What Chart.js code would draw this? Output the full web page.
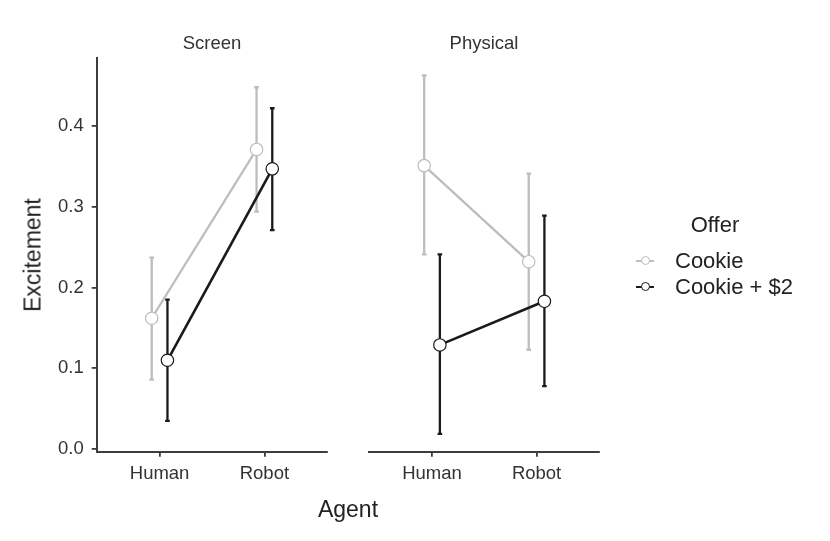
<!DOCTYPE html>
<html>
<head>
<meta charset="utf-8">
<script src="https://cdn.jsdelivr.net/npm/chart.js@4.4.1/dist/chart.umd.min.js"></script>
<style>
  html, body { margin:0; padding:0; background:#fff; }
  body { width:830px; height:541px; position:relative; overflow:hidden; font-family:"Liberation Sans", Arial, Helvetica, sans-serif; }
  canvas { position:absolute; left:0; top:0; }
  .txt { position:absolute; line-height:1; white-space:nowrap; }
  .c { transform:translate(-50%,-50%); }
  .lc { transform:translate(0,-50%); }
  .key-line { position:absolute; height:2px; }
  .key-dot { position:absolute; width:9px; height:9px; border-radius:50%; background:#fff; box-sizing:border-box; }
</style>
</head>
<body>
<canvas id="c1" width="830" height="541"></canvas>
<canvas id="c2" width="830" height="541"></canvas>

<div class="txt c" style="left:212px; top:43px; font-size:18.5px; color:#333;">Screen</div>
<div class="txt c" style="left:484px; top:43px; font-size:18.5px; color:#333;">Physical</div>
<div class="txt c" style="left:348px; top:509px; font-size:23px; color:#222;">Agent</div>
<div class="txt c" style="left:33px; top:255px; font-size:23px; color:#222; transform:translate(-50%,-50%) rotate(-90deg);">Excitement</div>

<div class="txt c" style="left:715px; top:225px; font-size:22px; color:#222;">Offer</div>
<div id="legend"></div>

<script>
// ---------- data ----------
const facets = ['Screen', 'Physical'];
const categories = ['Human', 'Robot'];
const series = ['Cookie', 'Cookie + $2'];
const yTicks = [0.0, 0.1, 0.2, 0.3, 0.4];

const screenCookie     = [0.162, 0.371];
const screenCookieLow  = [0.086, 0.294];
const screenCookieHigh = [0.237, 0.448];
const screenCash       = [0.110, 0.347];
const screenCashLow    = [0.035, 0.271];
const screenCashHigh   = [0.185, 0.422];

const physCookie       = [0.351, 0.232];
const physCookieLow    = [0.241, 0.123];
const physCookieHigh   = [0.4625, 0.341];
const physCash         = [0.129, 0.183];
const physCashLow      = [0.019, 0.078];
const physCashHigh     = [0.241, 0.289];

// ---------- style ----------
const GRAY = '#bdbdbd';
const BLACK = '#1a1a1a';
const AXIS = '#3d3d3d';
const TICK_TXT = '#333333';
const FONT = '"Liberation Sans", Arial, Helvetica, sans-serif';
const DODGE = 0.075;
const CAP = 0.022;
const PANEL_TOP = 57.6;
const PANEL_BOTTOM = 451.7;
const W = 830, H = 541;

// y-range like ggplot (5% expansion of data range)
const allLo = Math.min(...screenCookieLow, ...screenCashLow, ...physCookieLow, ...physCashLow);
const allHi = Math.max(...screenCookieHigh, ...screenCashHigh, ...physCookieHigh, ...physCashHigh);
const span = allHi - allLo;
const yMin = allLo - 0.05 * span;
const yMax = allHi + 0.05 * span;

const errorBars = {
  id: 'errorBars',
  beforeDatasetsDraw(chart) {
    const { ctx, scales: { x, y } } = chart;
    chart.data.datasets.forEach(ds => {
      ctx.save();
      ctx.strokeStyle = ds.borderColor;
      ctx.lineWidth = ds.errWidth;
      ctx.lineCap = 'butt';
      ds.data.forEach((p, i) => {
        const px = x.getPixelForValue(p.x);
        const yl = y.getPixelForValue(ds.lo[i]);
        const yh = y.getPixelForValue(ds.hi[i]);
        const cw = x.getPixelForValue(p.x + CAP) - px;
        ctx.beginPath();
        ctx.moveTo(px, yl); ctx.lineTo(px, yh);
        ctx.moveTo(px - cw, yl); ctx.lineTo(px + cw, yl);
        ctx.moveTo(px - cw, yh); ctx.lineTo(px + cw, yh);
        ctx.stroke();
      });
      ctx.restore();
    });
  }
};

function ds(label, vals, lo, hi, color, offset, lw, pbw) {
  return {
    label,
    data: vals.map((v, i) => ({ x: i + 1 + offset, y: v })),
    lo, hi,
    borderColor: color,
    borderWidth: lw,
    errWidth: 2.3,
    pointRadius: 6.2,
    pointHoverRadius: 6.2,
    pointBackgroundColor: '#ffffff',
    pointBorderColor: color,
    pointBorderWidth: pbw,
    fill: false,
    tension: 0
  };
}

function makeChart(id, datasets, showY, padLeft, panelRight) {
  return new Chart(document.getElementById(id), {
    type: 'line',
    data: { datasets },
    plugins: [errorBars],
    options: {
      responsive: false,
      animation: false,
      devicePixelRatio: 1,
      layout: { padding: { left: padLeft, right: W - panelRight, top: PANEL_TOP, bottom: 0 } },
      plugins: { legend: { display: false }, tooltip: { enabled: false }, title: { display: false } },
      scales: {
        x: {
          type: 'linear',
          min: 0.4, max: 2.6,
          afterBuildTicks: s => { s.ticks = categories.map((c, i) => ({ value: i + 1 })); },
          afterFit: s => { s.height = H - PANEL_BOTTOM; },
          ticks: {
            callback: v => categories[Math.round(v) - 1] || '',
            font: { family: FONT, size: 18.5 },
            color: TICK_TXT,
            padding: 6,
            autoSkip: false,
            maxRotation: 0
          },
          grid: { display: true, drawOnChartArea: false, drawTicks: true, tickLength: 5, color: AXIS, lineWidth: 1.8 },
          border: { display: true, color: AXIS, width: 2 }
        },
        y: {
          display: showY,
          min: yMin, max: yMax,
          afterBuildTicks: s => { s.ticks = yTicks.map(v => ({ value: v })); },
          afterFit: s => { s.width = showY ? 96.7 : 0; },
          ticks: {
            callback: v => Number(v).toFixed(1),
            font: { family: FONT, size: 18.5 },
            color: TICK_TXT,
            padding: 8
          },
          grid: { display: true, drawOnChartArea: false, drawTicks: true, tickLength: 5, color: AXIS, lineWidth: 1.8 },
          border: { display: true, color: AXIS, width: 2 }
        }
      }
    }
  });
}

makeChart('c1', [
  ds(series[0], screenCookie, screenCookieLow, screenCookieHigh, GRAY, -DODGE, 2.3, 1.2),
  ds(series[1], screenCash, screenCashLow, screenCashHigh, BLACK, DODGE, 2.6, 1.2)
], true, 0, 327.3);

makeChart('c2', [
  ds(series[0], physCookie, physCookieLow, physCookieHigh, GRAY, -DODGE, 2.3, 1.2),
  ds(series[1], physCash, physCashLow, physCashHigh, BLACK, DODGE, 2.6, 1.2)
], false, 369.3, 599.3);

// ---------- legend ----------
const legendColors = [GRAY, BLACK];
const legendY = [260.5, 286.5];
const leg = document.getElementById('legend');
series.forEach((name, i) => {
  const cy = legendY[i];
  const line = document.createElement('div');
  line.className = 'key-line';
  line.style.cssText = `left:636px; top:${cy - 1}px; width:18px; background:${legendColors[i]};`;
  leg.appendChild(line);
  const dot = document.createElement('div');
  dot.className = 'key-dot';
  dot.style.cssText = `left:640.5px; top:${cy - 4.5}px; border:1.3px solid ${legendColors[i]};`;
  leg.appendChild(dot);
  const t = document.createElement('div');
  t.className = 'txt lc';
  t.style.cssText = `left:675px; top:${cy}px; font-size:22px; color:#222;`;
  t.textContent = name;
  leg.appendChild(t);
});
</script>
</body>
</html>
